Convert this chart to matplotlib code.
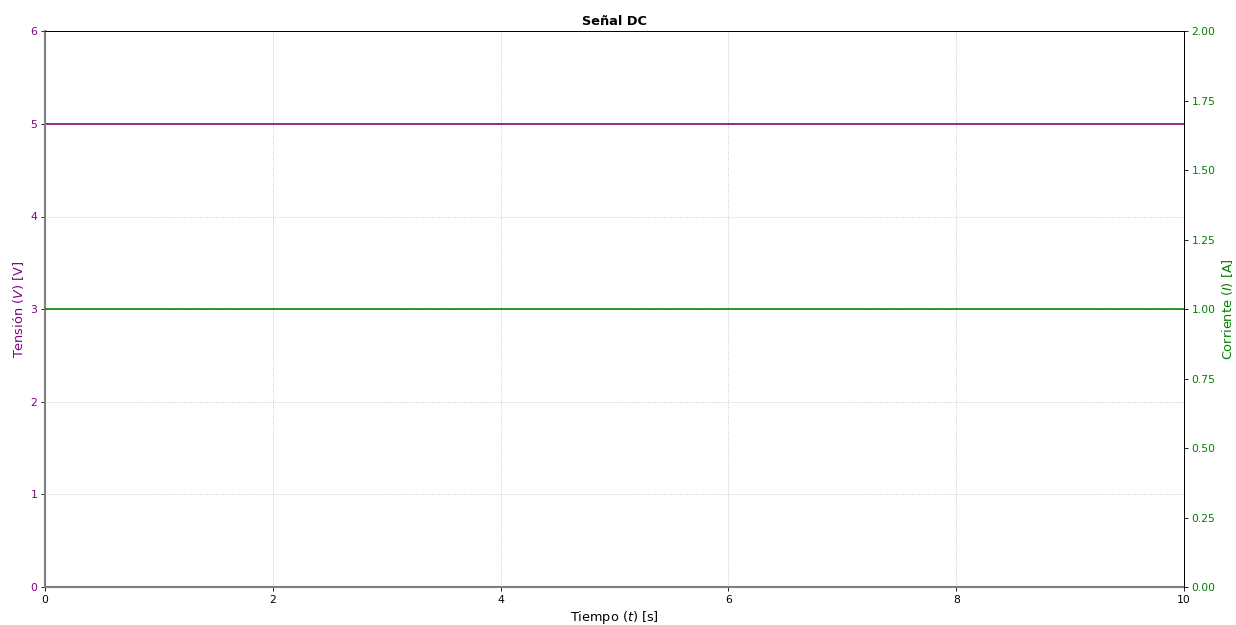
import numpy as np
import matplotlib
matplotlib.use("Agg")
import matplotlib.pyplot as plt

# DC signal levels
t = [0, 10]
tension = [5, 5]      # V
corriente = [1, 1]    # A

fig, ax = plt.subplots(figsize=(16, 625 / 77.25), dpi=77.25)
fig.subplots_adjust(left=0.0364, right=0.958, top=0.950, bottom=0.0608)

ax.plot(t, tension, color="purple", linewidth=1.5)
ax.set_xlim(0, 10)
ax.set_ylim(0, 6)
ax.set_xlabel("Tiempo ($t$) [s]", fontsize=12)
ax.set_ylabel("Tensión ($V$) [V]", color="purple", fontsize=12)
ax.tick_params(axis="y", labelcolor="purple")
ax.grid(True, linestyle=":", color="gray", alpha=0.5)
ax.set_title("Señal DC", fontweight="bold", fontsize=12)

ax2 = ax.twinx()
ax2.plot(t, corriente, color="green", linewidth=1.5)
ax2.set_ylim(0, 2)
ax2.set_ylabel("Corriente ($I$) [A]", color="green", fontsize=12)
ax2.tick_params(axis="y", labelcolor="green")

# Zero axes drawn as gray lines
for side in ("left", "bottom"):
    ax2.spines[side].set_visible(False)
    ax.spines[side].set_color("gray")
    ax.spines[side].set_linewidth(2)

fig.savefig("out.png", dpi=77.25)
